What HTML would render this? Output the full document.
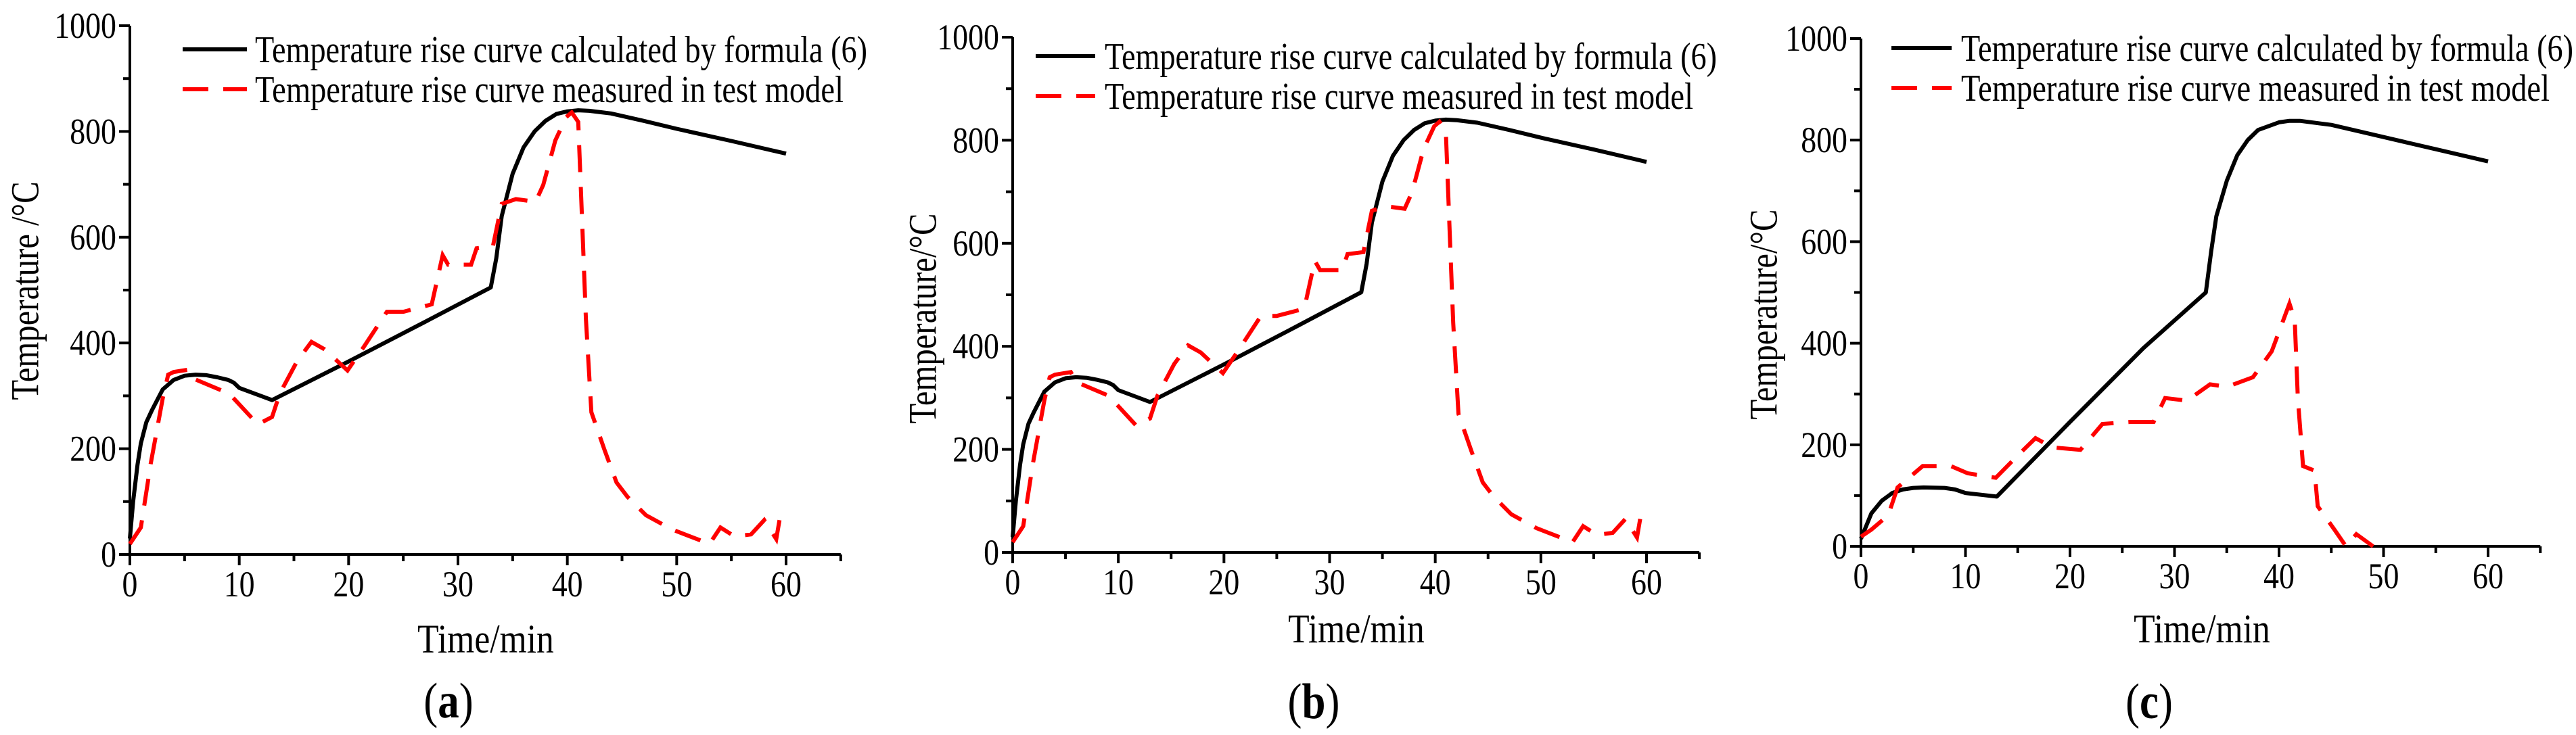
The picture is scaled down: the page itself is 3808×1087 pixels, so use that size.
<!DOCTYPE html>
<html><head><meta charset="utf-8"><style>
html,body{margin:0;padding:0;background:#fff;}
svg{display:block;}
text{font-family:"Liberation Serif",serif;fill:#000;}
</style></head><body>
<svg id="fig" width="3808" height="1087" viewBox="0 0 3808 1087" xmlns="http://www.w3.org/2000/svg"></svg>
<script>
// Data (shared by panels a and b)
const calcTimeAB = [0,0.3,0.7,1,1.5,2,3,4,5,6,7,8,9,9.5,10,13,20,27,33,33.5,34,35,36,37,38,39,40,41,42,44,47,50,55,60];
const calcTempAB = [30,100,170,210,250,272,312,330,338,340,339,335,330,325,315,292,365,440,505,560,640,720,770,800,820,833,838,840,839,834,820,805,782,758];
const measTimeAB = [0,1,1.9,3,3.5,4,5.5,6,9.1,11.7,13,13.7,15.3,16.6,17.8,19.9,21.4,23.5,25,27.6,28.6,29.1,31.2,31.7,33.2,34,35.3,37.1,37.8,38.9,39.9,40.4,41,41.4,41.7,42.2,43.4,44.5,45.5,47.2,49.6,53,54,55.3,56.8,58,59.1,59.4];
const measTempAB = [20,51,171,295,340,345,350,331,304,246,260,304,366,402,388,348,393,459,459,473,566,548,548,579,583,663,672,667,699,783,827,836,818,605,446,269,198,136,109,74,47,20,51,34,38,65,29,65];
// Data panel c
const calcTimeC = [0,0.5,1,2,3,4,5,6,8,9,10,13,20,27,33,33.5,34,35,36,37,38,40,41,42,45,50,55,60];
const calcTempC = [15,40,65,90,105,112,115,116,115,112,105,98,245,390,500,580,650,720,770,800,820,835,838,838,830,806,782,758];
const measTimeC = [0,1,2.6,3.5,5.9,8.6,10.2,12.9,15.1,16.7,18.3,21,23.1,25.8,28,29.1,31.2,33.4,35,37.5,39.3,41,41.5,41.8,42.3,43.4,43.7,45.3,46.4,47.4,49];
const measTempC = [19,33,61,116,158,158,144,135,181,213,195,190,241,245,245,292,287,319,314,333,384,478,446,292,158,149,79,33,0,24,0];
const xTicks = [0,10,20,30,40,50,60];
const yTicks = [0,200,400,600,800,1000];
const legendLabels = ["Temperature rise curve calculated by formula (6)","Temperature rise curve measured in test model"];

const NS = "http://www.w3.org/2000/svg";
const svg = document.getElementById('fig');
function mk(tag, attrs, parent){
  const e = document.createElementNS(NS, tag);
  for (const k in attrs) e.setAttribute(k, attrs[k]);
  (parent||svg).appendChild(e);
  return e;
}
function squeeze(t, f){
  const w = t.getComputedTextLength();
  if (w > 0) { t.setAttribute('textLength', (w*f).toFixed(1)); t.setAttribute('lengthAdjust', 'spacingAndGlyphs'); }
}
const panels = [
  {id:'a', x0:192, x60:1162, y0:820, y1000:38, ytitle:'Temperature /°C', ytx:37, yty:430, ttx:718, tty:965, lbx:663, lby:1061, lgLine:[270,365], lgText:377, lgY:73, ct:calcTimeAB, cv:calcTempAB, mt:measTimeAB, mv:measTempAB},
  {id:'b', x0:1497, x60:2434, y0:817, y1000:55, ytitle:'Temperature/°C', ytx:1364, yty:471, ttx:2005, tty:950, lbx:1942, lby:1062, lgLine:[1531,1619], lgText:1633, lgY:83, ct:calcTimeAB, cv:calcTempAB, mt:measTimeAB, mv:measTempAB},
  {id:'c', x0:2751, x60:3678, y0:808, y1000:57, ytitle:'Temperature/°C', ytx:2607, yty:465, ttx:3255, tty:950, lbx:3177, lby:1062, lgLine:[2796,2885], lgText:2899, lgY:71, ct:calcTimeC, cv:calcTempC, mt:measTimeC, mv:measTempC}
];
panels.forEach(p => {
  const g = mk('g', {});
  
  
  const sx = t => p.x0 + t * (p.x60 - p.x0) / 60;
  const sy = v => p.y0 - v * (p.y0 - p.y1000) / 1000;
  const ax = mk('path', {d:`M${p.x0},${sy(1000)} L${p.x0},${p.y0} L${sx(65)},${p.y0}`, fill:'none', stroke:'#000', 'stroke-width':4}, g);
  
  
  for (let t = 0; t <= 65; t += 5) {
    const major = t % 10 === 0;
    mk('line', {x1:sx(t), x2:sx(t), y1:p.y0, y2:p.y0 + (major?16:10), stroke:'#000', 'stroke-width':4}, g);
  }
  for (let v = 0; v <= 1000; v += 100) {
    const major = v % 200 === 0;
    mk('line', {x1:p.x0 - (major?16:10), x2:p.x0, y1:sy(v), y2:sy(v), stroke:'#000', 'stroke-width':4}, g);
  }
  xTicks.forEach(t => {
    const tx = mk('text', {x:sx(t), y:p.y0 + 62, 'font-size':54, 'text-anchor':'middle'}, g);
    tx.textContent = t;
    
    
    squeeze(tx, 0.85);
  });
  yTicks.forEach(v => {
    const tx = mk('text', {x:p.x0 - 20, y:sy(v) + 18, 'font-size':54, 'text-anchor':'end'}, g);
    tx.textContent = v;
    
    
    squeeze(tx, 0.85);
  });
  const xt = mk('text', {x:p.ttx, y:p.tty, 'font-size':60, 'text-anchor':'middle'}, g);
  xt.textContent = 'Time/min';
  
  
  squeeze(xt, 0.86);
  const yt = mk('text', {x:p.ytx, y:p.yty, 'font-size':58, 'text-anchor':'middle', 'dominant-baseline':'central', transform:`rotate(-90 ${p.ytx} ${p.yty})`}, g);
  yt.textContent = p.ytitle;
  
  
  squeeze(yt, 0.84);
  const lb = mk('text', {x:p.lbx, y:p.lby, 'font-size':74, 'text-anchor':'middle'}, g);
  lb.innerHTML = '(<tspan font-weight="bold">' + p.id + '</tspan>)';
  
  
  squeeze(lb, 0.85);
  const dC = p.ct.map((t,i) => (i?'L':'M') + sx(t).toFixed(1) + ',' + sy(p.cv[i]).toFixed(1)).join(' ');
  const lc = mk('path', {d:dC, fill:'none', stroke:'#000', 'stroke-width':6, 'stroke-linejoin':'round'}, g);
  
  
  const dM = p.mt.map((t,i) => (i?'L':'M') + sx(t).toFixed(1) + ',' + sy(p.mv[i]).toFixed(1)).join(' ');
  const lm = mk('path', {d:dM, fill:'none', stroke:'#ff0000', 'stroke-width':6, 'stroke-dasharray':'40 22'}, g);
  
  
  const lg = mk('g', {}, g);
  
  
  mk('line', {x1:p.lgLine[0], x2:p.lgLine[1], y1:p.lgY, y2:p.lgY, stroke:'#000', 'stroke-width':6}, lg);
  mk('line', {x1:p.lgLine[0], x2:p.lgLine[1], y1:p.lgY+59, y2:p.lgY+59, stroke:'#ff0000', 'stroke-width':6, 'stroke-dasharray':'38 22'}, lg);
  const lens = [905, 870];
  legendLabels.forEach((s,i) => {
    const t = mk('text', {x:p.lgText, y:p.lgY + 19 + i*59, 'font-size':56, textLength:lens[i], lengthAdjust:'spacingAndGlyphs'}, lg);
    t.textContent = s;
    
    
  });
});
</script>
</body></html>
